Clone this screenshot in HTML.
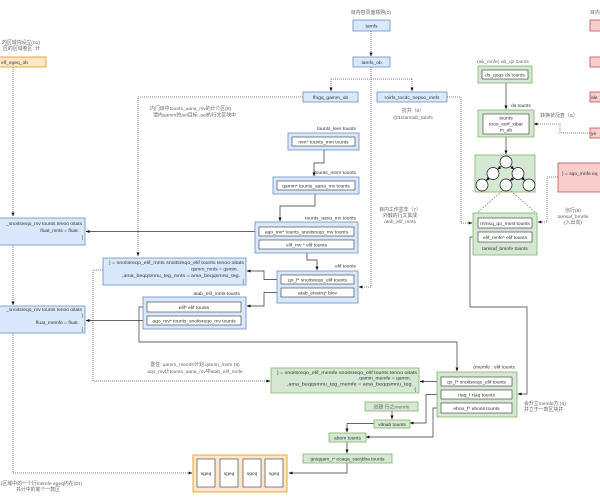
<!DOCTYPE html>
<html><head><meta charset="utf-8"><style>
html,body{margin:0;padding:0;background:#fff;width:600px;height:500px;overflow:hidden}
svg{display:block}
.b{fill:#dae8fc;stroke:#6c8ebf;stroke-width:.8}
.g{fill:#d5e8d4;stroke:#82b366;stroke-width:.8}
.r{fill:#f8cecc;stroke:#b85450;stroke-width:.8}
.o{fill:#ffe6cc;stroke:#d79b00;stroke-width:.8}
.w{fill:#fff;stroke:#333;stroke-width:.6}
.s{fill:none;stroke:#333;stroke-width:.7}
.d{fill:none;stroke:#555;stroke-width:.7;stroke-dasharray:1 1}
.t{fill:none;stroke:#777;stroke-width:.6;stroke-dasharray:2 1}
text{fill:#333;font-family:"Liberation Sans","Noto Sans CJK SC",sans-serif;font-size:4.9px}
.l{fill:#666}
.m{text-anchor:middle}
.e{text-anchor:end}
</style></head><body>
<svg xmlns="http://www.w3.org/2000/svg" width="600" height="500" viewBox="0 0 600 500">
<defs>
<marker id="a" viewBox="0 0 10 10" refX="9" refY="5" markerWidth="4" markerHeight="4" orient="auto" markerUnits="userSpaceOnUse"><path d="M0,1L10,5L0,9z" fill="#111"/></marker>
</defs>

<!-- ===== connectors (drawn first) ===== -->
<path class="d" d="M371,31V56" marker-end="url(#a)"/>
<path class="d" d="M371,67V287H359" marker-end="url(#a)"/>
<path class="d" d="M331,79H412"/>
<path class="d" d="M331,79V91" marker-end="url(#a)"/>
<path class="d" d="M412,79V91" marker-end="url(#a)"/>
<path class="d" d="M303,97H138V256" marker-end="url(#a)"/>
<path class="d" d="M447,97H461V223H472" marker-end="url(#a)"/>

<path class="s" d="M324,146V163H314V176" marker-end="url(#a)"/>
<path class="s" d="M315,190V206H280V221" marker-end="url(#a)"/>
<path class="s" d="M307,249V260H317V270" marker-end="url(#a)"/>
<path class="s" d="M281,279.5H264V271H247" marker-end="url(#a)"/>
<path class="s" d="M281,292.5H264V306H247" marker-end="url(#a)"/>
<path class="s" d="M259,231.5H86" marker-end="url(#a)"/>
<path class="s" d="M147,307H139V342H457V371" marker-end="url(#a)"/>
<path class="s" d="M147,320.5H86" marker-end="url(#a)"/>

<path class="d" d="M103,270H93V381H270" marker-end="url(#a)"/>
<path class="d" d="M13,67V216" marker-end="url(#a)"/>
<path class="d" d="M13,245V305" marker-end="url(#a)"/>
<path class="d" d="M13,333V473H192" marker-end="url(#a)"/>

<path class="s" d="M441,381.5H420" marker-end="url(#a)"/>
<path class="s" d="M441,394.5H426V423H410" marker-end="url(#a)"/>
<path class="s" d="M441,408H433V437H366" marker-end="url(#a)"/>
<path class="s" d="M392,411V419" marker-end="url(#a)"/>
<path class="s" d="M375,423.5H347V432" marker-end="url(#a)"/>
<path class="s" d="M347,442V453" marker-end="url(#a)"/>
<path class="s" d="M347,463V473H289" marker-end="url(#a)"/>

<path class="s" d="M506,79V109" marker-end="url(#a)"/>
<path class="s" d="M506,133V154" marker-end="url(#a)"/>
<path class="s" d="M478,237H470V307H527V394H518" marker-end="url(#a)"/>
<path class="d" d="M558,177H547V222H538" marker-end="url(#a)"/>
<path class="d" d="M590,133H560V124H534" marker-end="url(#a)"/>

<!-- ===== top centre ===== -->
<text class="l m" x="371" y="14">目內容頁面標題(0)</text>
<rect class="b" x="353" y="20" width="37" height="11"/>
<text class="m" x="371.5" y="27.3">tamfs</text>
<rect class="b" x="353" y="57" width="37" height="10"/>
<text class="m" x="371.5" y="63.8">tamfs_ob</text>
<rect class="b" x="303" y="92" width="55" height="10"/>
<text class="m" x="330.5" y="98.8">ffogq_gamm_ob</text>
<rect class="b" x="377" y="92" width="70" height="10"/>
<text class="m" x="412" y="98.8">roirfs_tocdc_nepoo_mnfs</text>
<text class="l m" x="413" y="112">抗共（8）</text>
<text class="l m" x="413" y="119">@11tamtab_tamfs</text>

<text class="l" x="150" y="110">内门目中tounfs_aana_mv的计介区(8)</text>
<text class="l" x="153" y="116.5">谓内qamm的ael目标 .ael的行文区块中</text>

<text class="l m" x="400" y="211">目内工作並非（7）</text>
<text class="l m" x="400" y="217">外触的行文其成</text>
<text class="l m" x="400" y="223">atab_elif_mnts</text>

<!-- ===== centre stack ===== -->
<text class="e" x="356" y="130">tounts_leer tounts</text>
<rect class="b" x="288" y="133" width="71" height="17"/>
<rect class="w" x="292" y="137" width="63" height="9"/>
<text class="m" x="323.5" y="143.3">mm* tounts_mm tounts</text>

<text class="e" x="356" y="174">tounts_mnm tounts</text>
<rect class="b" x="273" y="177" width="86" height="17"/>
<rect class="w" x="277" y="181" width="78" height="9"/>
<text class="m" x="316" y="187.3">qamm* tounts_aana_mv tounts</text>

<text class="e" x="356" y="219.5">tounts_aana_mv tounts</text>
<rect class="b" x="255" y="222" width="103" height="31"/>
<rect class="w" x="259" y="227" width="95" height="9"/>
<text class="m" x="306.5" y="233.3">aqo_mv* tounts_snoitsreqo_mv tounts</text>
<rect class="w" x="259" y="240" width="95" height="9"/>
<text class="m" x="306.5" y="246.3">elif_mv * elif tounts</text>

<text class="e" x="356" y="267.5">elif tounts</text>
<rect class="b" x="277" y="271" width="81" height="32"/>
<rect class="w" x="281" y="275" width="73" height="9"/>
<text class="m" x="317.5" y="281.3">qo_f* snoitsreqo_elif tounts</text>
<rect class="w" x="281" y="288" width="73" height="9"/>
<text class="m" x="317.5" y="294.3">atab_etsvirq* biov</text>

<!-- blue code box -->
<rect class="b" x="103" y="258" width="143" height="27"/>
<text class="e" x="244" y="264" textLength="135" lengthAdjust="spacingAndGlyphs">} = snoitsreqo_elif_mnts snoitsreqo_elif tounts tenoo oitats</text>
<text class="e" x="238" y="270.5">qsmm_mnts = qsmm.</text>
<text class="e" x="240" y="277" textLength="118" lengthAdjust="spacingAndGlyphs">,ama_beqqsmnu_teg_mnts = ama_beqqsmnu_teg.</text>
<text class="e" x="244" y="283">{</text>

<text class="e" x="240" y="295">atab_elif_mnts tounts</text>
<rect class="b" x="143" y="297" width="103" height="32"/>
<rect class="w" x="147" y="302" width="94" height="10"/>
<text class="m" x="194" y="308.8">elif* elif tounts</text>
<rect class="w" x="147" y="316" width="94" height="9"/>
<text class="m" x="194" y="322.3">aqo_mv* tounts_snoitsreqo_mv tounts</text>

<text class="l m" x="195" y="366">置住 .qamm_memfe计划.qamm_mnfe (8)</text>
<text class="l m" x="195" y="373">aqo_mv计tounts_aana_mv中atab_elif_mnfe</text>

<!-- ===== left column ===== -->
<text class="l e" x="40" y="44">的区域内设立(01)</text>
<text class="l e" x="40" y="50">计, 区的区域卷区 .计</text>
<rect class="o" x="-5" y="57" width="51" height="10"/>
<text x="1" y="63.8">elf_egeq_ob</text>

<rect class="b" x="-5" y="218" width="90" height="27"/>
<text class="e" x="82" y="225">_snoitsreqo_mv tounts tenoo oitats</text>
<text class="e" x="79" y="232">fluat_mnts = fluat.</text>
<text class="e" x="83" y="239">[</text>

<rect class="b" x="-5" y="306" width="90" height="27"/>
<text class="e" x="82" y="311">_snoitsreqo_mv tounts tenoo oitats</text>
<text class="e" x="83" y="317">}</text>
<text class="e" x="79" y="324">fluat_memfe = fluat.</text>
<text class="e" x="83" y="331">[</text>

<text class="l m" x="38" y="485">(01)区域中的一个行memfe egeq内在(01)</text>
<text class="l m" x="38" y="491">共计中的某个一款区</text>

<!-- pages -->
<rect class="o" x="193" y="455" width="94" height="37"/>
<rect class="w" x="197" y="459" width="18" height="28"/>
<rect class="w" x="220" y="459" width="18" height="28"/>
<rect class="w" x="243" y="459" width="18" height="28"/>
<rect class="w" x="265" y="459" width="18" height="28"/>
<text class="m" x="206" y="475">sgeq</text>
<text class="m" x="229" y="475">sgeq</text>
<text class="m" x="252" y="475">sgeq</text>
<text class="m" x="274" y="475">sgeq</text>

<!-- ===== bottom right ===== -->
<rect class="g" x="271" y="368" width="148" height="25"/>
<text class="e" x="417" y="374" textLength="140" lengthAdjust="spacingAndGlyphs">} = snoitsreqo_elif_memfe snoitsreqo_elif tounts tenoo oitats</text>
<text class="e" x="411" y="379.5">.qamm_memfe = qamm.</text>
<text class="e" x="413" y="385.5" textLength="126" lengthAdjust="spacingAndGlyphs">,ama_beqqsmnu_teg_memfe = ama_beqqsmnu_teg.</text>
<text class="e" x="416" y="391">{</text>

<text class="e" x="515" y="368.5">(memfe : elif tounts</text>
<rect class="g" x="437" y="372" width="80" height="45"/>
<rect class="w" x="441" y="377" width="71" height="9"/>
<text class="m" x="476.5" y="383.3">qo_f* snoitsreqo_elif tounts</text>
<rect class="w" x="441" y="390" width="71" height="9"/>
<text class="m" x="476.5" y="396.3">rtaq_f rtaq tounts</text>
<rect class="w" x="441" y="403" width="71" height="10"/>
<text class="m" x="476.5" y="409.8">ebon_f* ebonit tounts</text>

<text class="l" x="524" y="405">会升立memfe方 (8)</text>
<text class="l" x="524" y="411">并立于一款区块并</text>

<rect class="g" x="365" y="402" width="53" height="9"/>
<text class="l m" x="391.5" y="408.3">创建 行之memfe</text>
<rect class="g" x="374" y="420" width="36" height="8"/>
<text class="m" x="392" y="425.8">vitnab tounts</text>
<rect class="g" x="329" y="433" width="37" height="9"/>
<text class="m" x="347.5" y="439.3">abom tounts</text>
<rect class="g" x="303" y="454" width="89" height="9"/>
<text class="m" x="347.5" y="460.3">gniqqam_i* ecaqa_sseɿbba tounts</text>

<!-- ===== right column ===== -->
<text class="l m" x="503" y="63">(ab_mnfe) ab_qz tounts</text>
<rect class="g" x="478" y="66" width="54" height="17"/>
<rect class="w" x="482" y="70" width="46" height="9"/>
<text class="m" x="505" y="76.3">ds_qoqs ds tounts</text>
<text x="511" y="107">ds tounts</text>

<rect class="g" x="478" y="110" width="56" height="27"/>
<rect class="w" x="483" y="114" width="46" height="20"/>
<text class="m" x="506" y="119.5">tounts</text>
<text class="m" x="506" y="125.5">tooo_eerf_xibar</text>
<text class="m" x="506" y="131.5">m_ab</text>

<text class="l m" x="559" y="117">转换状况查（S）</text>

<rect class="g" x="475" y="155" width="60" height="37"/>
<g fill="#fff" stroke="#111" stroke-width=".7">
<circle cx="506" cy="162" r="6"/>
<circle cx="493" cy="173.5" r="6"/>
<circle cx="518" cy="173.5" r="6"/>
<circle cx="482" cy="185" r="6"/>
<circle cx="506" cy="185" r="6"/>
<circle cx="529" cy="185" r="6"/>
</g>
<path class="s" d="M501.5,166L497.5,169.5" marker-end="url(#a)"/>
<path class="s" d="M510.5,166L514,169.5" marker-end="url(#a)"/>
<path class="s" d="M489,178L486,180.5" marker-end="url(#a)"/>
<path class="s" d="M514,178L510,180.5" marker-end="url(#a)"/>
<path class="s" d="M522,178L525,180.5" marker-end="url(#a)"/>
<path class="t" d="M502,191L477,213"/>
<path class="t" d="M511,191L536,213"/>

<rect class="g" x="473" y="213" width="64" height="42"/>
<rect class="w" x="478" y="218" width="54" height="10"/>
<text class="m" x="505" y="224.8">rnmsq_qo_mnst tounts</text>
<rect class="w" x="478" y="232" width="54" height="10"/>
<text class="m" x="505" y="238.8">elif_mnfe* elif tounts</text>
<text class="m" x="505" y="250">tamsaf_bmnfe tounts</text>

<text class="l m" x="573" y="212">创行(8)</text>
<text class="l m" x="573" y="218">tamsaf_bmnfe</text>
<text class="l m" x="573" y="224">(入出向)</text>

<rect class="r" x="558" y="163" width="50" height="29"/>
<text x="562" y="175">} = sqo_mnfe eq</text>

<text class="l" x="590" y="14">目内界</text>
<rect class="r" x="590" y="20" width="15" height="11"/>
<rect class="r" x="590" y="57" width="15" height="10"/>
<rect class="r" x="590" y="92" width="15" height="10"/>
<text x="591" y="98.8">ale</text>
<rect class="r" x="590" y="128" width="15" height="10"/>
<text x="591" y="134.8">ye</text>
</svg>
</body></html>
